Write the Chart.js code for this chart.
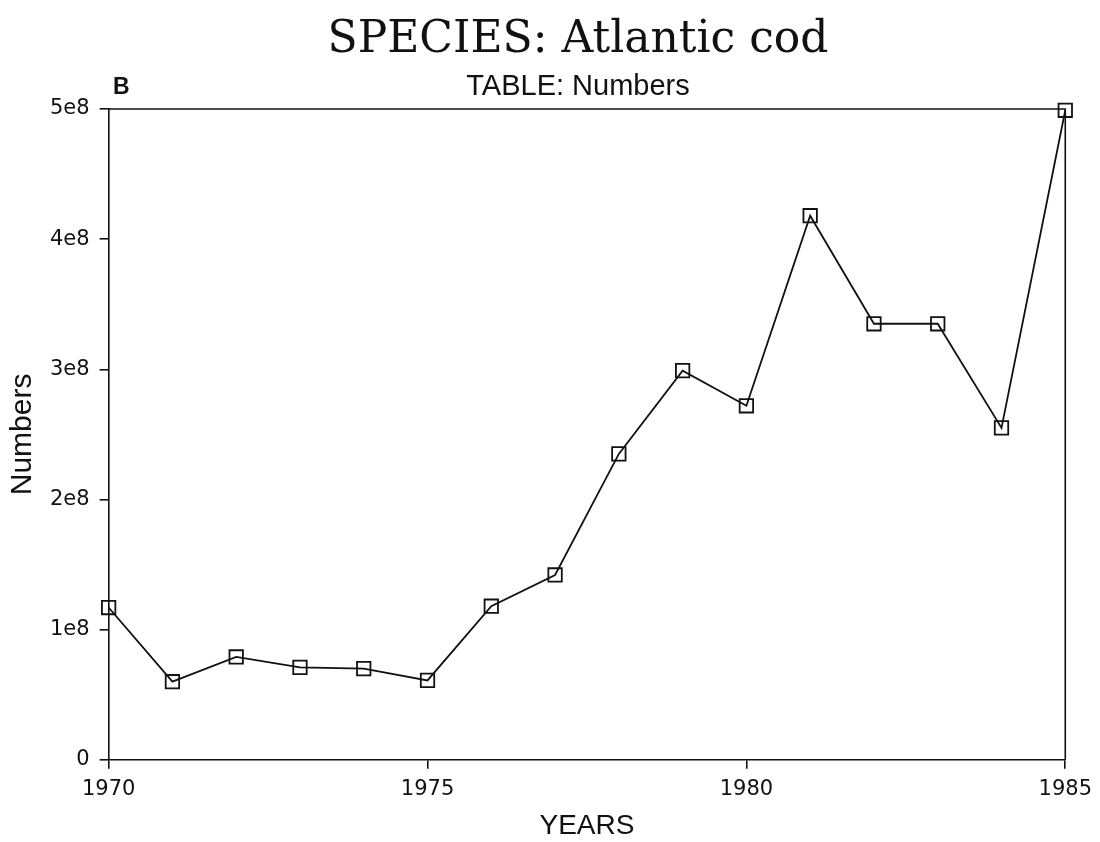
<!DOCTYPE html>
<html>
<head>
<meta charset="utf-8">
<script src="https://cdn.jsdelivr.net/npm/chart.js@4"></script>
<style>
  html, body { margin: 0; padding: 0; background: #fff; }
  #wrap { width: 1100px; height: 842px; }
</style>
</head>
<body>
<div id="wrap"><canvas id="codChart" width="1100" height="842"></canvas></div>
<script>
// data
const years = [1970, 1971, 1972, 1973, 1974, 1975, 1976, 1977, 1978, 1979, 1980, 1981, 1982, 1983, 1984, 1985];
const numbers = [1.17e8, 0.60e8, 0.79e8, 0.71e8, 0.70e8, 0.61e8, 1.18e8, 1.42e8, 2.35e8, 2.99e8, 2.72e8, 4.18e8, 3.35e8, 3.35e8, 2.55e8, 4.99e8];
const yTickLabels = ['0', '1e8', '2e8', '3e8', '4e8', '5e8'];
const xTickYears = [1970, 1975, 1980, 1985];

const titleText = 'SPECIES: Atlantic cod';
const subtitleText = 'TABLE: Numbers';
const panelLetter = 'B';

const ink = '#111';
const sans = "'Liberation Sans', Arial, sans-serif";
const tickFont = "'DejaVu Sans', sans-serif";

// headings are placed by hand (the "B" shares the subtitle line),
// then the top + right edge of the plot box
const framePlugin = {
  id: 'frame',
  afterDraw(chart) {
    const { ctx, chartArea } = chart;
    ctx.save();
    ctx.strokeStyle = ink;
    ctx.lineWidth = 1.6;
    ctx.beginPath();
    ctx.moveTo(chartArea.left, chartArea.top);
    ctx.lineTo(chartArea.right, chartArea.top);
    ctx.lineTo(chartArea.right, chartArea.bottom);
    ctx.stroke();

    ctx.fillStyle = ink;
    ctx.textBaseline = 'alphabetic';
    ctx.textAlign = 'center';
    ctx.font = "44px 'DejaVu Serif', 'Liberation Serif', serif";
    ctx.fillText(titleText, 578, 52);
    ctx.font = "29px " + sans;
    ctx.fillText(subtitleText, 578, 95);
    ctx.textAlign = 'left';
    ctx.font = "bold 23px " + sans;
    ctx.fillText(panelLetter, 113, 94);
    ctx.restore();
  }
};

const ctx = document.getElementById('codChart').getContext('2d');

const codChart = new Chart(ctx, {
  type: 'line',
  data: {
    datasets: [
      {
        label: 'Numbers',
        data: years.map((y, i) => ({ x: y, y: numbers[i] })),
        borderColor: ink,
        borderWidth: 1.8,
        pointStyle: 'rect',
        pointRadius: 9.5,
        pointBackgroundColor: 'rgba(255,255,255,0)',
        pointBorderColor: ink,
        pointBorderWidth: 1.8,
        tension: 0,
        fill: false,
        clip: 12,
      },
    ],
  },
  options: {
    responsive: false,
    animation: false,
    layout: { padding: { left: 8, right: 8, top: 109, bottom: 2 } },
    plugins: {
      legend: { display: false },
      tooltip: { enabled: false },
    },
    scales: {
      x: {
        type: 'linear',
        min: 1970,
        max: 1985,
        afterBuildTicks(axis) {
          axis.ticks = xTickYears.map((v) => ({ value: v }));
        },
        ticks: {
          color: ink,
          font: { family: tickFont, size: 21, lineHeight: 1.2 },
          padding: 8,
          maxRotation: 0,
          callback: (v) => String(v),
        },
        grid: { display: true, drawOnChartArea: false, tickLength: 9, color: ink, lineWidth: 1.6 },
        border: { display: true, color: ink, width: 1.6 },
        title: {
          display: true,
          text: 'YEARS',
          color: ink,
          font: { family: sans, size: 28, lineHeight: 1 },
          padding: { top: 2, bottom: 0 },
        },
      },
      y: {
        min: 0,
        max: 5e8,
        ticks: {
          stepSize: 1e8,
          color: ink,
          font: { family: tickFont, size: 21 },
          padding: 10,
          callback: (v) => yTickLabels[Math.round(v / 1e8)],
        },
        grid: { display: true, drawOnChartArea: false, tickLength: 9, color: ink, lineWidth: 1.6 },
        border: { display: true, color: ink, width: 1.6 },
        title: {
          display: true,
          text: 'Numbers',
          color: ink,
          font: { family: sans, size: 30, lineHeight: 1 },
          padding: { top: 0, bottom: 2 },
        },
      },
    },
  },
  plugins: [framePlugin],
});
</script>
</body>
</html>
